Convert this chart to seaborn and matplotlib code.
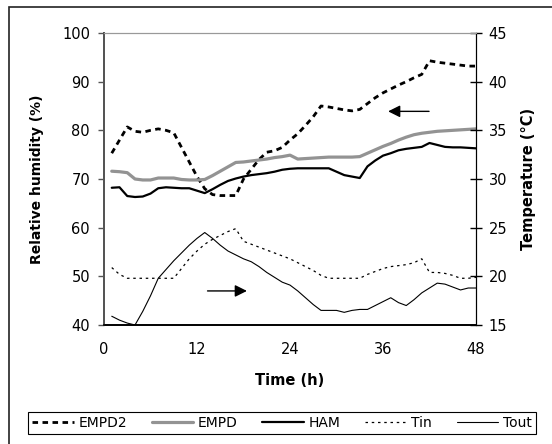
import numpy as np
import pandas as pd
import matplotlib
matplotlib.use('Agg')
import matplotlib.pyplot as plt
from matplotlib.patches import Rectangle
import seaborn as sns

# данные (часы 1..48)
hours = list(range(1, 49))

empd2 = [75.3, 78.0, 80.7, 79.8, 79.6, 80.0, 80.3, 80.0, 79.5, 76.5,
         73.5, 70.5, 68.0, 66.8, 66.6, 66.6, 66.6, 70.0, 72.0, 74.0,
         75.5, 75.8, 76.5, 78.0, 79.3, 81.0, 82.8, 85.0, 84.8, 84.5,
         84.2, 84.0, 84.3, 85.5, 86.7, 87.7, 88.5, 89.3, 90.0, 90.8,
         91.5, 94.3, 94.0, 93.8, 93.6, 93.4, 93.2, 93.2]

empd = [71.6, 71.5, 71.3, 70.0, 69.8, 69.8, 70.2, 70.2, 70.2, 69.9,
        69.8, 69.8, 69.9, 70.7, 71.6, 72.5, 73.4, 73.5, 73.7, 73.9,
        74.1, 74.4, 74.6, 74.9, 74.1, 74.2, 74.3, 74.4, 74.5, 74.5,
        74.5, 74.5, 74.6, 75.3, 76.0, 76.7, 77.3, 78.0, 78.6, 79.1,
        79.4, 79.6, 79.8, 79.9, 80.0, 80.1, 80.2, 80.3]

ham = [68.2, 68.3, 66.5, 66.3, 66.4, 67.0, 68.1, 68.3, 68.2, 68.1,
       68.1, 67.6, 67.1, 67.9, 68.8, 69.6, 70.1, 70.5, 70.8, 71.0,
       71.2, 71.5, 71.9, 72.1, 72.2, 72.2, 72.2, 72.2, 72.2, 71.5,
       70.8, 70.5, 70.2, 72.6, 73.8, 74.8, 75.3, 75.9, 76.2, 76.4,
       76.6, 77.4, 77.0, 76.6, 76.5, 76.5, 76.4, 76.3]

t_in = [20.9, 20.2, 19.8, 19.8, 19.8, 19.8, 19.8, 19.8, 19.8, 20.8,
        21.8, 22.6, 23.3, 23.8, 24.2, 24.6, 24.9, 23.6, 23.3, 23.0,
        22.7, 22.4, 22.1, 21.8, 21.4, 21.0, 20.6, 20.1, 19.8, 19.8,
        19.8, 19.8, 19.8, 20.2, 20.5, 20.8, 21.0, 21.1, 21.2, 21.4,
        21.8, 20.4, 20.4, 20.3, 20.1, 19.8, 19.8, 19.9]

t_out = [15.9, 15.5, 15.2, 15.0, 16.4, 18.0, 19.8, 20.7, 21.6, 22.4,
         23.2, 23.9, 24.5, 23.9, 23.2, 22.6, 22.2, 21.8, 21.5, 21.0,
         20.4, 19.9, 19.4, 19.1, 18.5, 17.8, 17.1, 16.5, 16.5, 16.5,
         16.3, 16.5, 16.6, 16.6, 17.0, 17.4, 17.8, 17.3, 17.0, 17.6,
         18.3, 18.8, 19.3, 19.2, 18.9, 18.6, 18.8, 18.8]

x_ticks = [0, 12, 24, 36, 48]

df = pd.DataFrame({'h': hours, 'EMPD2': empd2, 'EMPD': empd, 'HAM': ham,
                   'Tin': t_in, 'Tout': t_out})

sns.set_style('white')
plt.rcParams['font.family'] = ['DejaVu Sans']
plt.rcParams['font.size'] = 10
# весь текст чёрный, как в оригинале
for key in ['text.color', 'axes.labelcolor', 'xtick.color', 'ytick.color']:
    plt.rcParams[key] = 'black'

fig = plt.figure(figsize=(5.52, 4.44), dpi=100)
ax = fig.add_axes([104 / 552, 1 - 325 / 444, 372 / 552, 292 / 444])
ax2 = ax.twinx()

# влажность - левая ось
sns.lineplot(data=df, x='h', y='EMPD2', ax=ax, color='black', lw=2.0,
             linestyle=(0, (2.0, 1.6)), label='EMPD2')
sns.lineplot(data=df, x='h', y='EMPD', ax=ax, color='#939393', lw=2.3,
             label='EMPD')
sns.lineplot(data=df, x='h', y='HAM', ax=ax, color='black', lw=1.6,
             label='HAM')
# температура - правая ось
sns.lineplot(data=df, x='h', y='Tin', ax=ax2, color='black', lw=0.9,
             linestyle=(0, (2.0, 3.0)), label='Tin')
sns.lineplot(data=df, x='h', y='Tout', ax=ax2, color='black', lw=0.8,
             label='Tout')

for a in (ax, ax2):
    if a.get_legend() is not None:
        a.get_legend().remove()

ax.set_xlim(0, 48)
ax.set_ylim(40, 100)
ax2.set_ylim(15, 45)
ax.set_xticks(x_ticks)
ax.set_yticks(range(40, 101, 10))
ax2.set_yticks(range(15, 46, 5))

ax.set_xlabel('Time (h)', fontweight='bold', fontsize=10.5, labelpad=12)
ax.set_ylabel('Relative humidity (%)', fontweight='bold', fontsize=10, labelpad=13)
ax2.set_ylabel('Temperature (°C)', fontweight='bold', fontsize=10.5, labelpad=10)

ax.tick_params(axis='x', length=4, width=1, pad=8, direction='out', color='black', labelsize=10.5)
ax.tick_params(axis='y', left=True, length=4, width=1, pad=6, direction='out', color='#555555', labelsize=10.5)
ax2.tick_params(axis='y', right=True, length=8, width=1, pad=5, direction='inout', color='black', labelsize=10.5)

for a in (ax, ax2):
    a.spines['top'].set_color('#999999')
    a.spines['left'].set_color('#555555')
    a.spines['left'].set_linewidth(1.4)
    a.spines['right'].set_color('black')
    a.spines['bottom'].set_color('black')
    a.spines['bottom'].set_linewidth(1.2)

# стрелки, показывающие к какой оси относятся линии
ax.annotate('', xy=(36.3, 83.9), xytext=(42.3, 83.9),
            arrowprops=dict(arrowstyle='-|>', color='black', lw=1, mutation_scale=18))
ax.annotate('', xy=(18.8, 47.0), xytext=(13.0, 47.0),
            arrowprops=dict(arrowstyle='-|>', color='black', lw=1, mutation_scale=18))

# общая легенда внизу
h1, l1 = ax.get_legend_handles_labels()
h2, l2 = ax2.get_legend_handles_labels()
leg = fig.legend(h1 + h2, l1 + l2, loc='center', bbox_to_anchor=(282 / 552, 1 - 423 / 444),
                 ncol=5, frameon=True, fancybox=False, framealpha=1, edgecolor='black',
                 handlelength=3.0, handletextpad=0.35, columnspacing=1.75,
                 borderpad=0.3, borderaxespad=0, fontsize=10)
leg.get_frame().set_linewidth(0.8)

# рамка вокруг всего рисунка
fig.patches.append(Rectangle((9 / 552, -0.1), 1.2, 1.1 - 7.5 / 444, transform=fig.transFigure,
                             fill=False, edgecolor='#222222', lw=1.2, clip_on=False))

fig.savefig('out.png', dpi=100)
